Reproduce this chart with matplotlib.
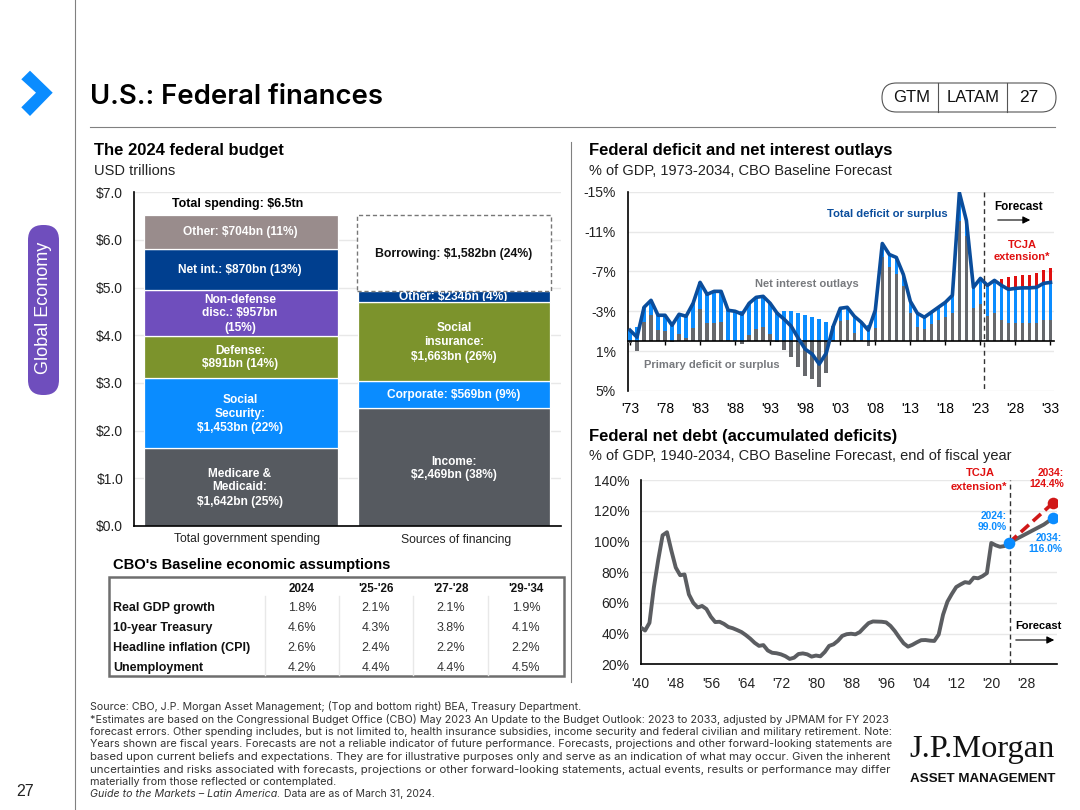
import matplotlib
matplotlib.use('Agg')
import matplotlib.pyplot as plt
from matplotlib.patches import FancyBboxPatch, Polygon, Rectangle
from matplotlib.transforms import Bbox

plt.rcParams['font.family'] = ['Liberation Sans', 'DejaVu Sans']

# budget, USD trillions
spending = [1.642, 1.453, 0.891, 0.957, 0.870, 0.704]
financing = [2.469, 0.569, 1.663, 0.234, 1.582]
budget_cats = ['Total government spending', 'Sources of financing']
budget_ticks = [0, 1, 2, 3, 4, 5, 6, 7]

# deficit, % of GDP, positive = deficit (axis shows deficits as negative)
def_years = list(range(1973, 2034))
total_def = [1.1, 0.4, 3.4, 4.1, 2.6, 2.6, 1.6, 2.7, 2.5, 3.8, 5.9, 4.7, 5.0, 5.0, 3.1, 3.0, 2.7, 3.8, 4.4, 4.5,
             3.8, 2.8, 2.2, 1.5, 0.3, -0.8, -1.3, -2.3, -1.2, 1.5, 3.3, 3.4, 2.5, 1.9, 1.1, 3.1, 9.8, 8.7, 8.4, 6.7,
             4.0, 2.8, 2.4, 2.9, 3.4, 3.9, 4.6, 14.9, 12.1, 5.4, 6.3, 5.6, 6.1, 5.6, 5.2, 5.3, 5.35, 5.35, 5.4, 5.8, 5.9]
primary_def = [-0.2, -1.0, 1.9, 2.6, 1.1, 1.0, -0.1, 0.7, 0.3, 1.3, 3.2, 1.8, 1.8, 1.9, 0.1, 0.0, -0.3, 0.6, 1.2, 1.4,
               0.7, -0.1, -0.9, -1.6, -2.6, -3.5, -3.8, -4.6, -3.2, 0.1, 2.0, 2.1, 0.8, 0.1, -0.5, 1.3, 8.4, 7.4, 6.7, 5.5,
               2.8, 1.4, 1.2, 1.7, 2.1, 2.4, 2.8, 12.1, 10.6, 3.3, 3.7, 2.5, 2.8, 2.1, 1.8, 1.8, 1.85, 1.85, 1.85, 2.1, 2.1]
interest = [1.1, 1.4, 1.5, 1.5, 1.5, 1.6, 1.7, 2.0, 2.2, 2.5, 2.7, 2.9, 3.2, 3.1, 3.0, 3.0, 3.0, 3.2, 3.2, 3.1,
            3.1, 2.9, 3.0, 3.0, 2.85, 2.6, 2.4, 2.2, 1.9, 1.4, 1.3, 1.3, 1.7, 1.8, 1.6, 1.8, 1.4, 1.3, 1.7, 1.2,
            1.2, 1.4, 1.2, 1.2, 1.3, 1.5, 1.8, 2.8, 1.5, 2.1, 2.6, 3.1, 3.3, 3.5, 3.4, 3.5, 3.5, 3.5, 3.55, 3.7, 3.8]
tcja_years = [2026, 2027, 2028, 2029, 2030, 2031, 2032, 2033]
tcja_extra = [0.6, 1.2, 1.25, 1.3, 1.25, 1.4, 1.3, 1.4]
def_ticks = [-15, -11, -7, -3, 1, 5]
def_labels = ['-15%', '-11%', '-7%', '-3%', '1%', '5%']
def_xticks = list(range(1973, 2034, 5))
def_xlabels = ["'73", "'78", "'83", "'88", "'93", "'98", "'03", "'08", "'13", "'18", "'23", "'28", "'33"]

# net debt, % of GDP
debt_years = list(range(1940, 2035))
debt = [44, 42, 47, 70, 88, 104, 106, 94, 83, 78, 78.5, 65.5, 60, 57, 58, 56, 51, 47.5, 47.7, 46.3,
        44.3, 43.5, 42.3, 41, 39, 36.7, 34, 32, 32.5, 29, 27.5, 27.2, 26.5, 25.3, 23.5, 24.3, 26.7, 27.1, 26.5, 25,
        25.7, 25.2, 28, 32, 33, 35.3, 38.5, 39.6, 39.9, 39.5, 41, 44, 46.8, 47.9, 47.8, 47.7, 47.3, 45, 41.6, 37.5,
        33.7, 31.5, 32.7, 34.3, 35.7, 35.8, 35.4, 35.2, 39.4, 52.3, 60.8, 65.8, 70.3, 72, 73.5, 73, 76.4, 76, 77.4, 79.4,
        99, 97.5, 96.5, 97, 99, 100.5, 102, 103.5, 105, 106.5, 108, 109.5, 111, 113, 115]
tcja_debt_years = [2024, 2034]
tcja_debt = [99, 124.8]
debt_ticks = [20, 40, 60, 80, 100, 120, 140]
debt_xticks = list(range(1940, 2029, 8))
debt_xlabels = ["'40", "'48", "'56", "'64", "'72", "'80", "'88", "'96", "'04", "'12", "'20", "'28"]

# table
col_heads = ['2024', "'25-'26", "'27-'28", "'29-'34"]
row_names = ['Real GDP growth', '10-year Treasury', 'Headline inflation (CPI)', 'Unemployment']
table_vals = [['1.8%', '2.1%', '2.1%', '1.9%'],
              ['4.6%', '4.3%', '3.8%', '4.1%'],
              ['2.6%', '2.4%', '2.2%', '2.2%'],
              ['4.2%', '4.4%', '4.4%', '4.5%']]

notes = ['Source: CBO, J.P. Morgan Asset Management; (Top and bottom right) BEA, Treasury Department.',
         '*Estimates are based on the Congressional Budget Office (CBO) May 2023 An Update to the Budget Outlook: 2023 to 2033, adjusted by JPMAM for FY 2023',
         'forecast errors. Other spending includes, but is not limited to, health insurance subsidies, income security and federal civilian and military retirement. Note:',
         'Years shown are fiscal years. Forecasts are not a reliable indicator of future performance. Forecasts, projections and other forward-looking statements are',
         'based upon current beliefs and expectations. They are for illustrative purposes only and serve as an indication of what may occur. Given the inherent',
         'uncertainties and risks associated with forecasts, projections or other forward-looking statements, actual events, results or performance may differ',
         'materially from those reflected or contemplated.']

W, H = 1080, 810
GRAY = '#565a60'
BLUE = '#0a8cff'
NAVY = '#003f8f'
OLIVE = '#7c932c'
PURPLE = '#6f4ebd'
TAUPE = '#998c8c'
RED = '#e01010'
GRID = '#e8e8e8'
RULE = '#808080'

fig = plt.figure(figsize=(W / 100, H / 100), dpi=100)


def px_axes(l, t, r, b):
    return fig.add_axes([l / W, 1 - b / H, (r - l) / W, (b - t) / H])


# pixel overlay for all the loose text
bg = fig.add_axes([0, 0, 1, 1], zorder=10)
bg.set_xlim(0, W)
bg.set_ylim(H, 0)
bg.axis('off')
bg.patch.set_alpha(0)


def label(x, y, s, size=10, color='black', weight='normal', ha='center', **kw):
    return bg.text(x, y, s, fontsize=size, color=color, fontweight=weight, ha=ha, va='center', **kw)


# ---- budget bars
ax = px_axes(134.3, 192.3, 560.7, 526)
colors_l = [GRAY, BLUE, OLIVE, PURPLE, NAVY, TAUPE]
colors_r = [GRAY, BLUE, OLIVE, NAVY]
bottom = 0
for v, c in zip(spending, colors_l):
    ax.bar(0, v, 0.908, bottom=bottom, color=c, edgecolor='white', linewidth=0.9, zorder=3)
    bottom += v
bottom = 0
for v, c in zip(financing[:4], colors_r):
    ax.bar(1, v, 0.9, bottom=bottom, color=c, edgecolor='white', linewidth=0.9, zorder=3)
    bottom += v
ax.bar(1, financing[4], 0.908, bottom=bottom, color='white', edgecolor='#777777', linewidth=1, linestyle=(0, (3, 2)), zorder=4)
ax.set_xlim(-0.5, 1.5)
ax.set_ylim(0, 7)
ax.set_yticks(budget_ticks)
ax.set_yticklabels(['$%d.0' % t for t in budget_ticks], fontsize=10, color='#222222')
ax.set_xticks([])
ax.tick_params(axis='y', length=0, pad=8)
ax.grid(axis='y', color=GRID, linewidth=1, zorder=0)
for s in ['top', 'right']:
    ax.spines[s].set_visible(False)
ax.spines['left'].set_linewidth(1.2)
ax.spines['bottom'].set_linewidth(1.2)
ax.spines['left'].set_zorder(6)
ax.spines['bottom'].set_zorder(6)

label(246.7, 539, budget_cats[0], 8.7, '#222222')
label(456, 539.5, budget_cats[1], 8.7, '#222222')
label(238, 203.5, 'Total spending: $6.5tn', 8.9, 'black', 'bold')
left_txt = [(232.3, 'Other: $704bn (11%)'), (270, 'Net int.: $870bn (13%)'), (300, 'Non-defense'), (313.5, 'disc.: $957bn'),
            (328, '(15%)'), (351, 'Defense:'), (364.5, '$891bn (14%)'), (400, 'Social'), (414, 'Security:'),
            (428, '$1,453bn (22%)'), (474, 'Medicare &'), (487.5, 'Medicaid:'), (502, '$1,642bn (25%)')]
for y, s in left_txt:
    label(240, y, s, 8.6, 'white', 'bold')
right_txt = [(328.3, 'Social'), (341.7, 'insurance:'), (356.7, '$1,663bn (26%)'), (395.3, 'Corporate: $569bn (9%)'),
             (461.7, 'Income:'), (475, '$2,469bn (38%)')]
for y, s in right_txt:
    label(454, y, s, 8.6, 'white', 'bold')
label(454, 253.5, 'Borrowing: $1,582bn (24%)', 8.8, '#111111', 'bold')
t = label(453, 296.8, 'Other: $234bn (4%)', 8.6, 'white', 'bold')
t.set_clip_on(True)
t.set_clip_box(Bbox([[358, H - 301], [550, H - 291.5]]))

# ---- deficit chart, deficits plotted as negative values
ax = px_axes(627.7, 191.7, 1054, 391)
base = [-max(p, 0) for p in primary_def]
top_blue = [b - i for b, i in zip(base, interest)]
ax.bar(tcja_years, [-v for v in tcja_extra], 0.5, bottom=[top_blue[def_years.index(y)] for y in tcja_years], color=RED, zorder=3)
ax.bar(def_years, [-v for v in interest], 0.5, bottom=base, color=BLUE, zorder=3)
ax.bar(def_years, [-v for v in primary_def], 0.5, color='#66686c', zorder=3)
ax.plot(def_years, [-v for v in total_def], color='#0a4d9c', linewidth=2.6, zorder=5, solid_joinstyle='round')
ax.plot([2023.5, 2023.5], [-15, 5], color='#333333', linewidth=1, linestyle=(0, (3.5, 2.5)), zorder=6)
ax.set_xlim(1972.67, 2033.5)
ax.set_ylim(5, -15)
ax.set_yticks(def_ticks)
ax.set_yticklabels(def_labels, fontsize=10, color='#222222')
ax.set_xticks(def_xticks)
ax.set_xticklabels(def_xlabels, fontsize=10, color='#222222')
ax.tick_params(axis='y', length=0, pad=8.5)
ax.tick_params(axis='x', length=3, width=1, pad=41)
ax.grid(axis='y', color=GRID, linewidth=1, zorder=0)
ax.set_axisbelow(True)
for s in ['top', 'right']:
    ax.spines[s].set_visible(False)
ax.spines['bottom'].set_position(('data', 0))
ax.spines['bottom'].set_linewidth(1.2)
ax.spines['left'].set_linewidth(1.2)
ax.spines['bottom'].set_zorder(4)

label(887, 214, 'Total deficit or surplus', 8.1, '#0a4d9c', 'bold')
label(1019, 207.5, 'Forecast', 8.4, 'black', 'bold')
bg.annotate('', xy=(1033, 220), xytext=(995, 220), arrowprops=dict(arrowstyle='-|>', color='black', lw=0.8, mutation_scale=11))
label(1022, 245, 'TCJA', 8, RED, 'bold')
label(1022, 257, 'extension*', 8, RED, 'bold')
label(807, 284, 'Net interest outlays', 8, '#77797d', 'bold')
label(712, 365, 'Primary deficit or surplus', 8, '#77797d', 'bold')

# ---- debt chart
ax = px_axes(640.7, 480, 1057, 664.3)
ax.plot(debt_years, debt, color='#5b5d61', linewidth=2.8, zorder=3)
ax.plot(tcja_debt_years, tcja_debt, color='#d01818', linewidth=2.6, linestyle=(0, (3, 1.5)), zorder=4)
ax.plot([2024.3, 2024.3], [20, 140], color='#333333', linewidth=1, linestyle=(0, (3.5, 2.5)), zorder=3)
ax.scatter([2024, 2034], [99, 115], s=70, color=BLUE, zorder=6, linewidths=0)
ax.scatter([2034], [124.8], s=70, color='#d01818', zorder=5, linewidths=0)
ax.set_xlim(1940, 2035)
ax.set_ylim(20, 140)
ax.set_yticks(debt_ticks)
ax.set_yticklabels(['%d%%' % t for t in debt_ticks], fontsize=10, color='#222222')
ax.set_xticks(debt_xticks)
ax.set_xticklabels(debt_xlabels, fontsize=10, color='#222222')
ax.tick_params(axis='y', length=0, pad=8)
ax.tick_params(axis='x', length=0, pad=9)
ax.grid(axis='y', color=GRID, linewidth=1, zorder=0)
for s in ['top', 'right']:
    ax.spines[s].set_visible(False)
ax.spines['left'].set_linewidth(1.2)
ax.spines['bottom'].set_linewidth(1.2)

label(980, 473.3, 'TCJA', 8, RED, 'bold')
label(979, 487, 'extension*', 8, RED, 'bold')
label(1051, 473, '2034:', 7.4, RED, 'bold')
label(1047, 484, '124.4%', 7.4, RED, 'bold')
label(994, 516, '2024:', 7.4, BLUE, 'bold')
label(992, 527, '99.0%', 7.4, BLUE, 'bold')
label(1049, 538, '2034:', 7.4, BLUE, 'bold')
label(1045, 549, '116.0%', 7.4, BLUE, 'bold')
label(1038, 626, 'Forecast', 8, 'black', 'bold')
bg.annotate('', xy=(1057, 640), xytext=(1013, 640), arrowprops=dict(arrowstyle='-|>', color='black', lw=0.8, mutation_scale=11))

# ---- headings
label(90, 97, 'U.S.: Federal finances', 19.8, 'black', 'semibold', ha='left', family=['Inter', 'DejaVu Sans'])
label(94, 150, 'The 2024 federal budget', 12, 'black', 'bold', ha='left')
label(94, 171, 'USD trillions', 10.5, '#222222', ha='left')
label(589, 150, 'Federal deficit and net interest outlays', 12, 'black', 'bold', ha='left')
label(589, 171, '% of GDP, 1973-2034, CBO Baseline Forecast', 10.5, '#222222', ha='left')
label(589, 436, 'Federal net debt (accumulated deficits)', 12, 'black', 'bold', ha='left')
label(589, 456, '% of GDP, 1940-2034, CBO Baseline Forecast, end of fiscal year', 10.5, '#222222', ha='left')

# ---- table
label(113, 565, "CBO's Baseline economic assumptions", 10.6, 'black', 'bold', ha='left')
bg.add_patch(Rectangle((109, 577), 455, 99, fill=False, edgecolor='#6e6e6e', linewidth=1.8))
col_x = [302, 376, 451, 526]
row_y = [608, 628, 648, 668]
for x in [265, 339, 413, 488]:
    bg.plot([x, x], [596, 675], color='#e8e8e8', linewidth=1)
for x, s in zip(col_x, col_heads):
    label(x, 589, s, 8.4, '#111111', 'bold')
for y, name, vals in zip(row_y, row_names, table_vals):
    label(113, y, name, 9, '#111111', 'bold', ha='left')
    for x, v in zip(col_x, vals):
        label(x, y, v, 9, '#333333')

# ---- frame bits
bg.plot([75, 75], [0, H], color=RULE, linewidth=0.8)
bg.plot([90, 1055], [127, 127], color=RULE, linewidth=0.8)
bg.plot([571, 571], [142, 682], color=RULE, linewidth=0.8)
bg.add_patch(Polygon([(21.3, 79.3), (30, 70.7), (52.7, 92.7), (30, 116), (21.3, 107.3), (36, 92.7)], color=BLUE, lw=0))
bg.add_patch(FancyBboxPatch((43, 240), 1, 140, boxstyle='round,pad=15,rounding_size=15', fc=PURPLE, ec='none'))
label(44, 308, 'Global Economy', 13, 'white', rotation=90, rotation_mode='anchor')
pill = FancyBboxPatch((882, 83), 174, 29, boxstyle='round,pad=0,rounding_size=14.5', fc='white', ec='#555555', lw=0.8)
bg.add_patch(pill)
for x in [937.5, 1006.5]:
    bg.plot([x, x], [83, 112], color='#555555', linewidth=0.8)
label(912, 98, 'GTM', 12, '#111111')
label(973, 98, 'LATAM', 12, '#111111')
label(1029, 98, '27', 12.5, '#111111')

# ---- footnotes, stretched to the column width like the justified source text
fig.canvas.draw()
rend = fig.canvas.get_renderer()
note_font = ['Inter', 'DejaVu Sans']
for i, s in enumerate(notes):
    t = label(90, 706.5 + i * 12.65, s, 6.7, '#333333', ha='left', family=note_font)
    if i == 0:
        t.set_fontsize(6.7 * 492 / t.get_window_extent(rend).width)
    elif i < 6:
        t.set_fontsize(6.7 * 802 / t.get_window_extent(rend).width)
    else:
        t.set_fontsize(7.8)
label(90, 794, 'Guide to the Markets – Latin America.', 7.7, '#333333', ha='left', style='italic', family=note_font)
label(284, 794, 'Data are as of March 31, 2024.', 7.5, '#333333', ha='left', family=note_font)
label(16, 791, '27', 11.5, '#222222', ha='left')

label(909, 750, 'J.P.Morgan', 23.4, '#111111', ha='left', family=['Liberation Serif', 'DejaVu Serif'])
label(910, 779, 'ASSET MANAGEMENT', 9.6, '#111111', 'bold', ha='left')

fig.savefig('out.png', dpi=100)
